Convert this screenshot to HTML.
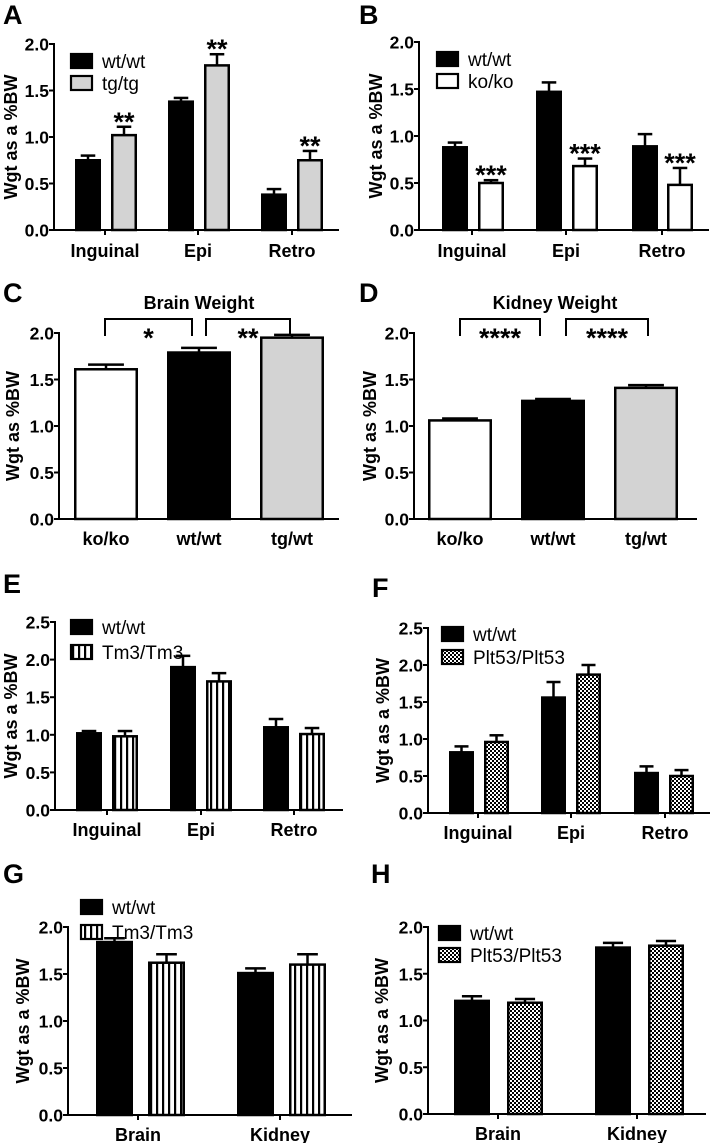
<!DOCTYPE html>
<html><head><meta charset="utf-8"><style>
body{margin:0;background:#fff}
svg{display:block;font-family:"Liberation Sans",Arial,sans-serif;font-weight:bold}
</style></head><body>
<svg id="fig" width="712" height="1143" viewBox="0 0 712 1143" xmlns="http://www.w3.org/2000/svg">
<defs>
<pattern id="stripes" patternUnits="userSpaceOnUse" width="6" height="10"><rect width="6" height="10" fill="#fff"/><rect x="0" width="2.2" height="10" fill="#000"/></pattern>
<pattern id="checks" patternUnits="userSpaceOnUse" width="4" height="4"><rect width="4" height="4" fill="#fff"/><rect width="2" height="2" fill="#000"/><rect x="2" y="2" width="2" height="2" fill="#000"/></pattern>
</defs>
</svg>
<script>
// ---- data ----
const fatCats=["Inguinal","Epi","Retro"];
const organCats=["Brain","Kidney"];
const genoCats=["ko/ko","wt/wt","tg/wt"];
const aWt=[0.75,1.38,0.38], aWtErr=[0.05,0.04,0.06];
const aTg=[1.02,1.77,0.75], aTgErr=[0.09,0.12,0.10];
const aStars=["**","**","**"];
const bWt=[0.88,1.47,0.89], bWtErr=[0.05,0.10,0.13];
const bKo=[0.50,0.68,0.48], bKoErr=[0.03,0.08,0.18];
const bStars=["***","***","***"];
const cVals=[1.61,1.79,1.95], cErr=[0.05,0.05,0.03];
const dVals=[1.06,1.27,1.41], dErr=[0.02,0.02,0.03];
const eWt=[1.02,1.90,1.10], eWtErr=[0.03,0.15,0.11];
const eTm=[0.98,1.71,1.01], eTmErr=[0.07,0.11,0.08];
const fWt=[0.82,1.56,0.54], fWtErr=[0.08,0.21,0.09];
const fPl=[0.96,1.87,0.50], fPlErr=[0.09,0.13,0.08];
const gWt=[1.84,1.51], gWtErr=[0.04,0.05];
const gTm=[1.62,1.60], gTmErr=[0.09,0.11];
const hWt=[1.21,1.78], hWtErr=[0.05,0.05];
const hPl=[1.19,1.80], hPlErr=[0.04,0.05];
const ticks2=["0.0","0.5","1.0","1.5","2.0"];
const ticks25=["0.0","0.5","1.0","1.5","2.0","2.5"];

const svg=document.getElementById('fig');
const NS='http://www.w3.org/2000/svg';
function el(tag,attrs,parent){const e=document.createElementNS(NS,tag);for(const k in attrs)e.setAttribute(k,attrs[k]);(parent||svg).appendChild(e);return e;}
function txt(s,x,y,size,anchor,parent){const t=el('text',{x:x,y:y,'font-size':size,'text-anchor':anchor||'middle',fill:'#000'},parent);t.textContent=s;return t;}

function panel(p){
  const g=el('g',{});
  
  
  const L=txt(p.letter,p.lx,p.ly,27,'start',g);
  
  
  const max=p.ticks.length-1;
  const ymax=parseFloat(p.ticks[max]);
  const Y=v=>p.y0-(v/ymax)*(p.y0-p.ytop);
  p.series.forEach((s,si)=>{
    s.vals.forEach((v,i)=>{
      const x=p.bx[si][i], w=p.bw;
      const top=Y(v), et=Y(v+s.err[i]);
      const eb=el('line',{x1:x+w/2,x2:x+w/2,y1:top,y2:et,stroke:'#000','stroke-width':2.5},g);
      
      
      const cap=el('line',{x1:x+w/2-w*0.28,x2:x+w/2+w*0.28,y1:et,y2:et,stroke:'#000','stroke-width':2.5},g);
      
      
      const fill=Array.isArray(s.fill)?s.fill[i]:s.fill;
      const r=el('rect',{x:x+1.25,y:top,width:w-2.5,height:p.y0-top,fill:fill,stroke:'#000','stroke-width':2.5},g);
      
      
      if(s.stars){const st=txt(s.stars[i],x+w/2,et+4,27,'middle',g);
        
        }
    });
  });
  const ya=el('line',{x1:p.ax,x2:p.ax,y1:p.ytop-1,y2:p.y0+1,stroke:'#000','stroke-width':2},g);
  
  
  const xa=el('line',{x1:p.ax-5,x2:p.axEnd,y1:p.y0,y2:p.y0,stroke:'#000','stroke-width':2},g);
  
  
  p.ticks.forEach((t,i)=>{
    const y=Y(parseFloat(t));
    el('line',{x1:p.ax-5,x2:p.ax,y1:y,y2:y,stroke:'#000','stroke-width':2},g);
    const tl=txt(t,p.ax-5,y+6.5,17.5,'end',g);
    
    
  });
  p.cats.forEach((c,i)=>{
    const cx=p.cx[i];
    if(p.xticks) el('line',{x1:cx,x2:cx,y1:p.y0,y2:p.y0+5,stroke:'#000','stroke-width':2},g);
    const cl=txt(c,cx,p.y0+p.labOff,18,'middle',g);
    
    
  });
  const yt=txt('Wgt as a %BW',0,0,18,'middle',g);
  yt.setAttribute('style','font-weight:600');
  if(p.ytitle) yt.textContent=p.ytitle;
  yt.setAttribute('transform','translate('+p.ytx+','+((p.ytop+p.y0)/2)+') rotate(-90)');
  
  
  if(p.legend){p.legend.forEach((l,i)=>{
    const lg=el('g',{},g);
    
    
    el('rect',{x:l.x,y:l.y,width:21,height:14,fill:l.fill,stroke:'#000','stroke-width':2.2},lg);
    const lt=txt(l.label,l.x+31,l.y+14,19,'start',lg);
    lt.setAttribute('style','font-weight:normal');
  });}
  return {g,Y};
}
const blk='#000', gry='#d3d3d3', wht='#fff', str='url(#stripes)', chk='url(#checks)';

panel({letter:'A',lx:3,ly:24,ax:54,axEnd:339,ytop:44,y0:230,ticks:ticks2,bw:26,
  bx:[[75,168,261],[111,204,297]],cats:fatCats,cx:[105,198,292],xticks:true,labOff:27,ytx:17,
  series:[{name:'wt',vals:aWt,err:aWtErr,fill:blk},{name:'tg',vals:aTg,err:aTgErr,fill:gry,stars:aStars}],
  legend:[{x:71,y:54,fill:blk,label:'wt/wt'},{x:71,y:76,fill:gry,label:'tg/tg'}]});
panel({letter:'B',lx:359,ly:24,ax:419,axEnd:709,ytop:42,y0:230,ticks:ticks2,bw:26,
  bx:[[442,536,632],[478,572,667]],cats:fatCats,cx:[472,566,662],xticks:true,labOff:27,ytx:382,
  series:[{name:'wt',vals:bWt,err:bWtErr,fill:blk},{name:'ko',vals:bKo,err:bKoErr,fill:wht,stars:bStars}],
  legend:[{x:437,y:52,fill:blk,label:'wt/wt'},{x:437,y:74,fill:wht,label:'ko/ko'}]});

function bracketPanel(pc,starsArr,title,tx){
  const r=panel(pc);
  const t=txt(title,tx,309,18,'middle',r.g);
  
  
  pc.brackets.forEach((b,i)=>{
    const br=el('path',{d:'M'+b[0]+' 336 V319 H'+b[1]+' V336',fill:'none',stroke:'#000','stroke-width':2},r.g);
    
    
    const s=txt(starsArr[i],(b[0]+b[1])/2,347,27,'middle',r.g);
    
    
  });
}
bracketPanel({letter:'C',lx:3,ly:302,ax:59,axEnd:339,ytop:333,y0:519,ticks:ticks2,bw:64,
  bx:[[74,167,260]],cats:genoCats,cx:[106,199,292],xticks:false,labOff:26,ytx:19,ytitle:'Wgt as %BW',
  series:[{name:'brain',vals:cVals,err:cErr,fill:[wht,blk,gry]}],brackets:[[105,192],[206,290]]},['*','**'],'Brain Weight',199);
bracketPanel({letter:'D',lx:359,ly:302,ax:414,axEnd:697,ytop:333,y0:519,ticks:ticks2,bw:64,
  bx:[[428,521,614]],cats:genoCats,cx:[460,553,646],xticks:false,labOff:26,ytx:376,ytitle:'Wgt as %BW',
  series:[{name:'kidney',vals:dVals,err:dErr,fill:[wht,blk,gry]}],brackets:[[460,540],[566,648]]},['****','****'],'Kidney Weight',555);

panel({letter:'E',lx:3,ly:593,ax:55,axEnd:343,ytop:622,y0:810,ticks:ticks25,bw:26,
  bx:[[76,170,263],[112,206,299]],cats:fatCats,cx:[107,201,294],xticks:true,labOff:26,ytx:17,
  series:[{name:'wt',vals:eWt,err:eWtErr,fill:blk},{name:'tm3',vals:eTm,err:eTmErr,fill:str}],
  legend:[{x:71,y:620,fill:blk,label:'wt/wt'},{x:71,y:645,fill:str,label:'Tm3/Tm3'}]});
panel({letter:'F',lx:372,ly:597,ax:428,axEnd:710,ytop:628,y0:813,ticks:ticks25,bw:25,
  bx:[[449,541,634],[484,576,669]],cats:fatCats,cx:[478,571,665],xticks:true,labOff:26,ytx:389,
  series:[{name:'wt',vals:fWt,err:fWtErr,fill:blk},{name:'plt53',vals:fPl,err:fPlErr,fill:chk}],
  legend:[{x:442,y:627,fill:blk,label:'wt/wt'},{x:442,y:650,fill:chk,label:'Plt53/Plt53'}]});
panel({letter:'G',lx:3,ly:883,ax:68,axEnd:352,ytop:927,y0:1115,ticks:ticks2,bw:37,
  bx:[[96,237],[148,289]],cats:organCats,cx:[138,280],xticks:true,labOff:26,ytx:29,
  series:[{name:'wt',vals:gWt,err:gWtErr,fill:blk},{name:'tm3',vals:gTm,err:gTmErr,fill:str}],
  legend:[{x:81,y:900,fill:blk,label:'wt/wt'},{x:81,y:925,fill:str,label:'Tm3/Tm3'}]});
panel({letter:'H',lx:371,ly:883,ax:428,axEnd:706,ytop:927,y0:1114,ticks:ticks2,bw:36,
  bx:[[454,595],[507,648]],cats:organCats,cx:[498,637],xticks:true,labOff:26,ytx:388,
  series:[{name:'wt',vals:hWt,err:hWtErr,fill:blk},{name:'plt53',vals:hPl,err:hPlErr,fill:chk}],
  legend:[{x:439,y:926,fill:blk,label:'wt/wt'},{x:439,y:948,fill:chk,label:'Plt53/Plt53'}]});
</script>
</body></html>
